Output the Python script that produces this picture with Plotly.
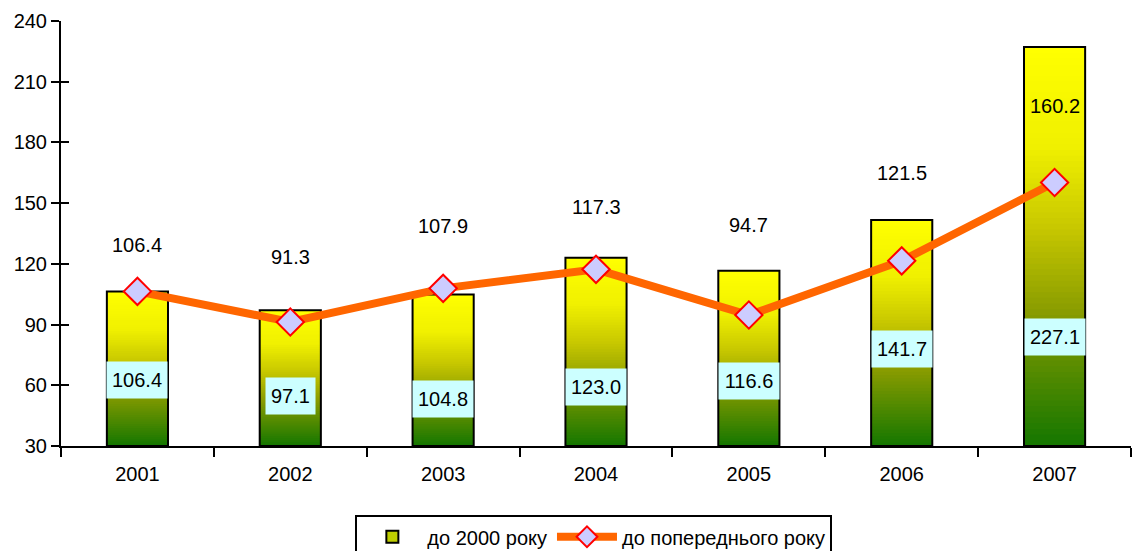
import plotly.graph_objects as go

years = ["2001", "2002", "2003", "2004", "2005", "2006", "2007"]
vs_2000 = [106.4, 97.1, 104.8, 123.0, 116.6, 141.7, 227.1]
vs_prev = [106.4, 91.3, 107.9, 117.3, 94.7, 121.5, 160.2]
bar_name = "до 2000 року"
line_name = "до попереднього року"

# label placement (layout only, data units)
bar_label_y = [62.6, 54.7, 53.2, 59.2, 62.1, 77.9, 83.9]
line_label_y = [129.3, 123.4, 138.7, 148.1, 139.4, 164.9, 198.0]

FONT = "Liberation Sans, Arial, sans-serif"
FS = 20
BASE = 30
N = 70

stops = [(0.0, (20, 118, 0)), (0.33, (135, 155, 0)), (0.55, (200, 200, 0)),
         (0.75, (240, 240, 0)), (1.0, (255, 255, 0))]


def grad(f):
    for (f0, c0), (f1, c1) in zip(stops[:-1], stops[1:]):
        if f0 <= f <= f1:
            t = (f - f0) / (f1 - f0)
            c = [round(a + (b - a) * t) for a, b in zip(c0, c1)]
            return "rgb(%d,%d,%d)" % tuple(c)
    return "rgb(255,255,0)"


def text_w(s):
    return sum(0.278 * FS if ch == "." else 0.556 * FS for ch in s)


fig = go.Figure()

# gradient bars built from stacked slices
for k in range(N):
    bases = [BASE + (v - BASE) * k / N for v in vs_2000]
    heights = [v - b for v, b in zip(vs_2000, bases)]
    fig.add_trace(go.Bar(
        x=years, y=heights, base=bases, width=0.4,
        marker=dict(color=grad((k + 0.5) / N), line=dict(width=0)),
        showlegend=False, hoverinfo="skip"))

# outline
fig.add_trace(go.Bar(
    x=years, y=[v - BASE for v in vs_2000], base=[BASE] * len(years), width=0.4,
    marker=dict(color="rgba(0,0,0,0)", line=dict(color="black", width=2)),
    showlegend=False, hoverinfo="skip"))

# legend-only bar entry
fig.add_trace(go.Bar(
    x=years, y=[None] * len(years), name=bar_name,
    marker=dict(color="rgb(190,205,0)", line=dict(color="black", width=2)),
    legendrank=1))

fig.add_trace(go.Scatter(
    x=years, y=vs_prev, name=line_name, mode="lines+markers",
    line=dict(color="#FF6600", width=8),
    marker=dict(symbol="diamond", size=21, color="#CCCCFF",
                line=dict(color="#FF0000", width=2)),
    legendrank=2))

# helper trace for inside tick half (cross ticks)
fig.add_trace(go.Scatter(x=years, y=[None] * len(years), yaxis="y2",
                         showlegend=False, hoverinfo="skip"))

annotations = []
for i, (v, ly) in enumerate(zip(vs_2000, bar_label_y)):
    t = "%.1f" % v
    annotations.append(dict(x=i, y=ly, xref="x", yref="y", text=t,
                            showarrow=False, bgcolor="#CCFFFF", borderpad=1,
                            width=text_w(t) + 8, height=34,
                            font=dict(family=FONT, size=FS, color="black")))
for i, (v, ly) in enumerate(zip(vs_prev, line_label_y)):
    annotations.append(dict(x=i, y=ly, xref="x", yref="y", text="%.1f" % v,
                            showarrow=False,
                            font=dict(family=FONT, size=FS, color="black")))

fig.update_layout(
    width=1133, height=551,
    margin=dict(l=61, r=2, t=21, b=105, autoexpand=False),
    paper_bgcolor="white", plot_bgcolor="white",
    barmode="overlay",
    font=dict(family=FONT, size=FS, color="black"),
    showlegend=True,
    legend=dict(orientation="h", x=0.498, xanchor="center", y=-0.163, yanchor="top",
                bordercolor="black", borderwidth=2, bgcolor="white",
                font=dict(family=FONT, size=FS, color="black"),
                traceorder="normal", itemwidth=60),
    xaxis=dict(type="category", range=[-0.5, len(years) - 0.5], showgrid=False,
               showline=True, linecolor="black", automargin=False,
               linewidth=2, ticks="outside", tickson="boundaries", ticklen=9,
               tickwidth=2, tickcolor="black", ticklabelstandoff=9, tickangle=0,
               tickfont=dict(family=FONT, size=FS), zeroline=False),
    yaxis=dict(range=[30, 240], dtick=30, tick0=30, showgrid=False, showline=True,
               linecolor="black", linewidth=2, ticks="outside", ticklen=8,
               tickwidth=2, tickcolor="black", zeroline=False, automargin=False,
               tickfont=dict(family=FONT, size=FS)),
    yaxis2=dict(range=[30, 240], dtick=30, tick0=30, overlaying="y", side="left",
                showgrid=False, showline=False, ticks="inside", ticklen=8,
                tickwidth=2, tickcolor="black", showticklabels=False,
                zeroline=False, automargin=False),
    annotations=annotations,
)

fig.write_html("out.html", config={"displayModeBar": False},
               post_script="document.body.style.margin='0';"
                           "document.body.style.overflow='hidden';")
